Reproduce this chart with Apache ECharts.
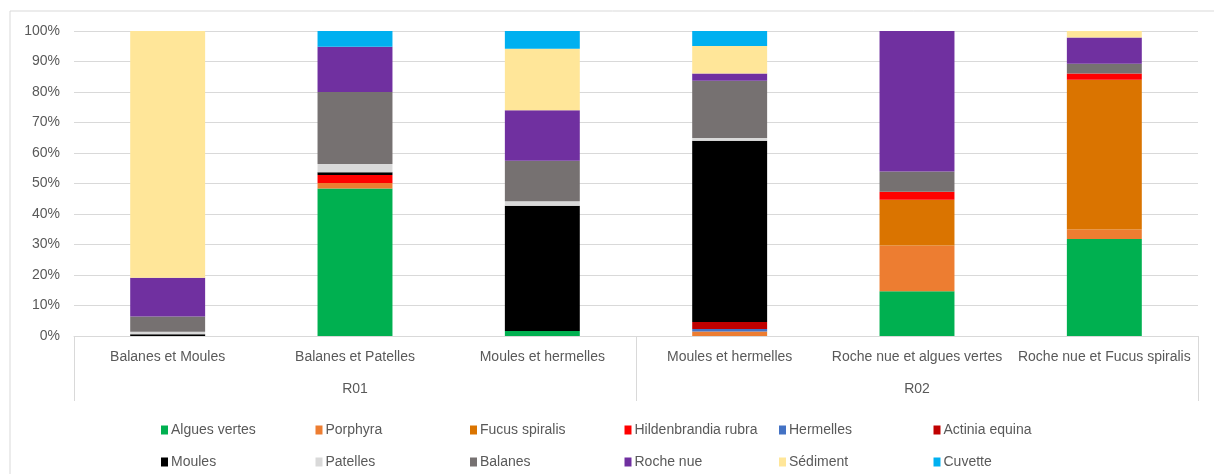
<!DOCTYPE html>
<html>
<head>
<meta charset="utf-8">
<script src="https://cdn.jsdelivr.net/npm/echarts@6/dist/echarts.min.js"></script>
<style>
  html, body { margin: 0; padding: 0; background: #fff; }
  #chart { width: 1214px; height: 474px; }
</style>
</head>
<body>
<div id="chart"></div>
<script>
// sites et groupes
const categories = ['Balanes et Moules', 'Balanes et Patelles', 'Moules et hermelles',
  'Moules et hermelles', 'Roche nue et algues vertes', 'Roche nue et Fucus spiralis']
const groups = ['R01', 'R02']

// recouvrement (%) par type
const alguesVertes = [0, 48.4, 1.6, 0, 14.7, 31.8]
const porphyra = [0, 1.8, 0, 1.5, 15.0, 3.1]
const fucusSpiralis = [0, 0, 0, 0, 15.0, 49.1]
const hildenbrandia = [0, 2.6, 0, 0, 2.6, 2.1]
const hermelles = [0, 0, 0, 0.8, 0, 0]
const actinia = [0, 0, 0, 2.3, 0, 0]
const moules = [0.6, 0.9, 41.1, 59.4, 0, 0]
const patelles = [0.8, 2.7, 1.5, 0.9, 0, 0]
const balanes = [5.0, 23.6, 13.3, 18.8, 6.6, 3.2]
const rocheNue = [12.7, 14.8, 16.5, 2.4, 46.1, 8.6]
const sediment = [80.9, 0, 20.2, 9.0, 0, 2.1]
const cuvette = [0, 5.2, 5.8, 4.9, 0, 0]

const seriesDefs = [
  ['Algues vertes', alguesVertes, '#00B050'],
  ['Porphyra', porphyra, '#ED7D31'],
  ['Fucus spiralis', fucusSpiralis, '#DA7400'],
  ['Hildenbrandia rubra', hildenbrandia, '#FF0000'],
  ['Hermelles', hermelles, '#4472C4'],
  ['Actinia equina', actinia, '#C00000'],
  ['Moules', moules, '#000000'],
  ['Patelles', patelles, '#D9D9D9'],
  ['Balanes', balanes, '#767171'],
  ['Roche nue', rocheNue, '#7030A0'],
  ['Sédiment', sediment, '#FFE699'],
  ['Cuvette', cuvette, '#00B0F0']
]

const font = 'Liberation Sans'
const txt = '#595959'
const grey = '#d9d9d9'

const chart = echarts.init(document.getElementById('chart'))

// une légende par entrée pour reproduire la grille d'Excel
const legends = seriesDefs.map(([name], i) => ({
  data: [name],
  left: 156 + (i % 6) * 154.5,
  top: i < 6 ? 418 : 450,
  icon: 'rect',
  itemWidth: 7,
  itemHeight: 9,
  itemGap: 0,
  selectedMode: false,
  textStyle: { color: txt, fontSize: 14, fontFamily: font, padding: [0, 0, 0, -2] }
}))

chart.setOption({
  animation: false,
  textStyle: { fontFamily: font },
  graphic: [{
    type: 'rect',
    shape: { x: 10, y: 11, width: 1220, height: 480 },
    style: { fill: 'none', stroke: grey, lineWidth: 1 },
    silent: true
  }],
  legend: legends,
  grid: { left: 74, right: 16, top: 31, bottom: 138 },
  xAxis: [{
    type: 'category',
    data: categories,
    axisLine: { lineStyle: { color: grey } },
    axisTick: { show: false },
    axisLabel: { interval: 0, color: txt, fontSize: 14, margin: 14 }
  }, {
    type: 'category',
    data: groups,
    position: 'bottom',
    axisLine: { show: false },
    axisTick: { show: true, length: 65, lineStyle: { color: grey } },
    axisLabel: { color: txt, fontSize: 14, margin: 46 }
  }],
  yAxis: {
    type: 'value',
    min: 0,
    max: 100,
    interval: 10,
    axisLine: { show: false },
    axisTick: { show: false },
    axisLabel: { formatter: '{value}%', color: txt, fontSize: 14, margin: 14 },
    splitLine: { lineStyle: { color: grey } }
  },
  series: seriesDefs.map(([name, data, color]) => ({
    name,
    type: 'bar',
    stack: 'total',
    barWidth: '40%',
    data,
    itemStyle: { color }
  }))
})
</script>
</body>
</html>
